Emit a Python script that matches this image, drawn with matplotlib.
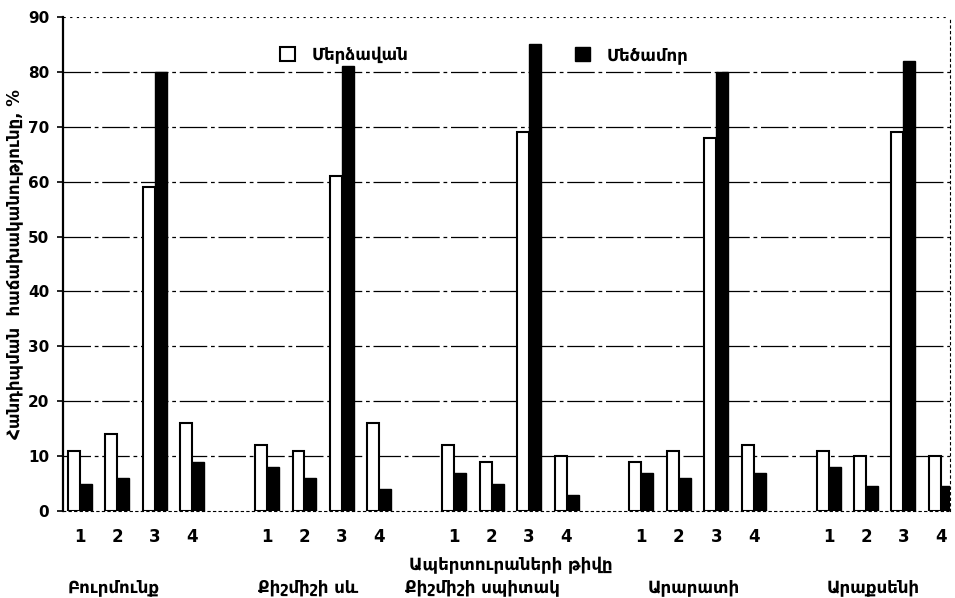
import matplotlib
matplotlib.use("Agg")
from matplotlib import pyplot as plt
import numpy as np

plt.rcParams['font.family'] = ['DejaVu Sans']

# varieties (groups) and aperture numbers
varieties = ["Բուրմունք", "Քիշմիշի սև", "Քիշմիշի սպիտակ", "Արարատի", "Արաքսենի"]
apertures = ["1", "2", "3", "4"]

# frequency of occurrence, % (white = Մերձավան, black = Մեծամոր)
merdzavan = [
    [11, 14, 59, 16],
    [12, 11, 61, 16],
    [12, 9, 69, 10],
    [9, 11, 68, 12],
    [11, 10, 69, 10],
]
metsamor = [
    [5, 6, 80, 9],
    [8, 6, 81, 4],
    [7, 5, 85, 3],
    [7, 6, 80, 7],
    [8, 4.5, 82, 4.5],
]

# where each variety name sits relative to its group's first bar
name_shift = [0.9, 1.1, 0.75, 1.4, 1.2]

fig = plt.figure(figsize=(9.55, 5.98), dpi=100)
ax = fig.add_axes([0.066, 0.1455, 0.929, 0.826])

width = 0.32
xs, labels = [], []
for g in range(len(varieties)):
    x = g * 5 + np.arange(len(apertures))
    b1 = ax.bar(x - width / 2, merdzavan[g], width, color="white",
                edgecolor="black", linewidth=1.5, zorder=3)
    b2 = ax.bar(x + width / 2, metsamor[g], width, color="black",
                edgecolor="black", linewidth=1.0, zorder=3)
    xs.extend(x)
    labels.extend(apertures)
    ax.text(g * 5 + name_shift[g], -13.9, varieties[g], ha="center", va="center",
            fontsize=12, fontweight="bold")

ax.set_xticks(xs)
ax.set_xticklabels(labels, fontsize=12, fontweight="bold")
ax.tick_params(axis="x", length=0, pad=12)

ax.set_ylim(0, 90)
ax.set_xlim(-0.45, 23.25)
ax.set_yticks(range(0, 91, 10))
ax.set_yticklabels([str(v) for v in range(0, 91, 10)], fontsize=11, fontweight="bold")
ax.tick_params(axis="y", length=4, width=1.2, pad=6)

# dash-dot grid lines
for v in range(10, 90, 10):
    ax.axhline(v, color="black", linewidth=0.9, linestyle=(0, (22, 3, 3, 3)), zorder=1)
ax.axhline(90, color="black", linewidth=0.8, linestyle=(0, (2, 4)), zorder=1)

ax.spines["top"].set_visible(False)
ax.spines["right"].set_linestyle((0, (2, 3)))
ax.spines["right"].set_linewidth(0.8)
ax.spines["bottom"].set_linestyle((0, (2, 3)))
ax.spines["bottom"].set_linewidth(0.8)
ax.spines["left"].set_linewidth(1.6)

ax.set_ylabel("Հանդիպման  հաճախականությունը, %", fontsize=12, fontweight="bold", labelpad=3)
ax.text(11.5, -9.9, "Ապերտուրաների թիվը", ha="center", va="center",
        fontsize=12, fontweight="bold")

ax.legend([b1, b2], ["Մերձավան", "Մեծամոր"], ncol=2, frameon=False,
          loc="center", bbox_to_anchor=(0.475, 0.923), columnspacing=10,
          handlelength=0.9, handleheight=0.9, handletextpad=1.0,
          prop={"weight": "bold", "size": 12})

plt.savefig("out.png", dpi=100)
